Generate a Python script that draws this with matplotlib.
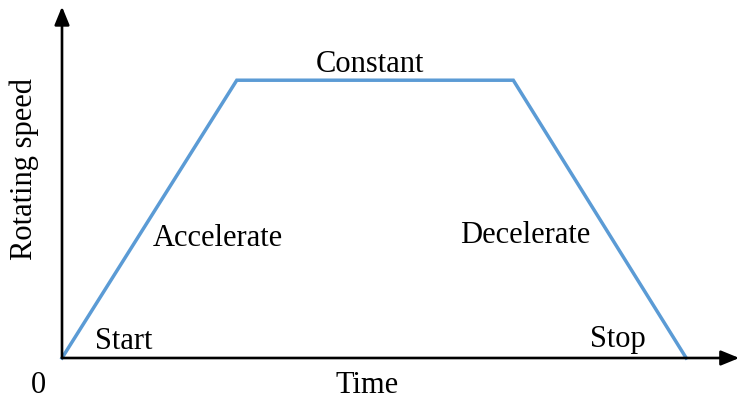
import matplotlib
matplotlib.use("Agg")
import matplotlib.pyplot as plt

# trapezoid speed profile (time units arbitrary, speed normalised)
time = [0, 2.8, 7.23, 10.0]
speed = [0, 1.0, 1.0, 0]

labels = ["Start", "Accelerate", "Constant", "Decelerate", "Stop"]
label_x = [0.99, 2.5, 4.94, 7.42, 8.91]
label_y = [0.06, 0.43, 1.058, 0.44, 0.065]

plt.rcParams['font.family'] = ['Liberation Serif', 'DejaVu Serif']

fig = plt.figure(figsize=(7.38, 4.0), dpi=100)
ax = fig.add_axes([62/738, 42/400, 676/738, 350/400])
ax.set_xlim(0, 10.83)
ax.set_ylim(0, 1.26)
ax.axis('off')

ax.plot(time, speed, color='#5B9BD5', lw=2.5, solid_joinstyle='miter', clip_on=False, zorder=3)

# axes with arrows
arr = dict(arrowstyle='-|>,head_length=1.1,head_width=0.45', color='black', lw=1.9, shrinkA=0, shrinkB=0)
ax.annotate('', xy=(10.85, 0), xytext=(0, 0), arrowprops=arr, annotation_clip=False)
ax.annotate('', xy=(0, 1.265), xytext=(0, 0), arrowprops=arr, annotation_clip=False)

for t, x, y in zip(labels, label_x, label_y):
    ax.text(x, y, t, fontsize=22, ha='center', va='center')

ax.text(-0.38, -0.1, "0", fontsize=22, ha='center', va='center', clip_on=False)
ax.text(4.89, -0.1, "Time", fontsize=22, ha='center', va='center', clip_on=False)
ax.text(-0.6, 0.68, "Rotating speed", fontsize=22, ha='center', va='center', rotation=90, clip_on=False)

fig.savefig("out.png", dpi=100)
